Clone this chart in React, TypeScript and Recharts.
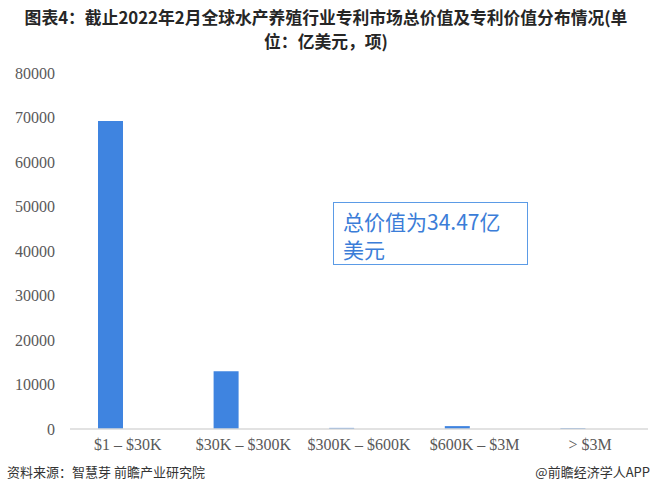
import { Bar, BarChart, XAxis, YAxis } from "recharts";

const categories = ["$1 – $30K", "$30K – $300K", "$300K – $600K", "$600K – $3M", "> $3M"];
const patentCounts = [69200, 13000, 250, 650, 200];
// second slot of the original Excel chart is empty, it only shifts the bars left
const emptySlot = [null, null, null, null, null];
const yTicks = [0, 10000, 20000, 30000, 40000, 50000, 60000, 70000, 80000];

const data = categories.map((name, i) => ({
  name,
  count: patentCounts[i],
  empty: emptySlot[i],
}));

const serif = "'Liberation Serif', 'Times New Roman', serif";
const sans = "'Noto Sans CJK SC', 'Noto Sans', sans-serif";

export default function App() {
  return (
    <div
      style={{
        position: "absolute",
        left: 0,
        top: 0,
        width: 652,
        height: 494,
        background: "#fff",
        overflow: "hidden",
      }}
    >
      <div
        style={{
          position: "absolute",
          left: 0,
          top: 5,
          width: 652,
          textAlign: "center",
          fontFamily: sans,
          fontWeight: 700,
          fontSize: 16.8,
          lineHeight: "24px",
          color: "#262626",
        }}
      >
        <div>图表4：截止2022年2月全球水产养殖行业专利市场总价值及专利价值分布情况(单</div>
        <div>位：亿美元，项)</div>
      </div>

      <div style={{ position: "absolute", left: 0, top: 0 }}>
        <BarChart
          width={652}
          height={494}
          data={data}
          margin={{ top: 73, right: 4, bottom: 35, left: 0 }}
          barSize={25}
          barGap={9}
        >
          <XAxis
            dataKey="name"
            height={30}
            axisLine={{ stroke: "#d9d9d9", strokeWidth: 1.5 }}
            tickLine={false}
            tickMargin={4}
            interval={0}
            tick={{ fill: "#595959", fontSize: 16, fontFamily: serif }}
          />
          <YAxis
            width={70}
            domain={[0, 80000]}
            ticks={yTicks}
            axisLine={false}
            tickLine={false}
            tickMargin={9}
            tick={{ fill: "#595959", fontSize: 16, fontFamily: serif }}
          />
          <Bar dataKey="count" fill="#3f84e0" isAnimationActive={false} />
          <Bar dataKey="empty" fill="transparent" isAnimationActive={false} />
        </BarChart>
      </div>

      <div
        style={{
          position: "absolute",
          left: 333,
          top: 202,
          width: 195,
          height: 63,
          border: "1.5px solid #5b9be6",
          fontFamily: sans,
          fontSize: 21,
          lineHeight: "28px",
          color: "#3b7dd8",
          padding: "4px 0 0 9px",
          boxSizing: "border-box",
        }}
      >
        <div>总价值为34.47亿</div>
        <div>美元</div>
      </div>

      <div
        style={{
          position: "absolute",
          left: 7,
          top: 462,
          fontFamily: sans,
          fontSize: 13,
          color: "#333",
        }}
      >
        资料来源：智慧芽 前瞻产业研究院
      </div>
      <div
        style={{
          position: "absolute",
          right: 2,
          top: 462,
          fontFamily: sans,
          fontSize: 13,
          color: "#333",
        }}
      >
        @前瞻经济学人APP
      </div>
    </div>
  );
}
